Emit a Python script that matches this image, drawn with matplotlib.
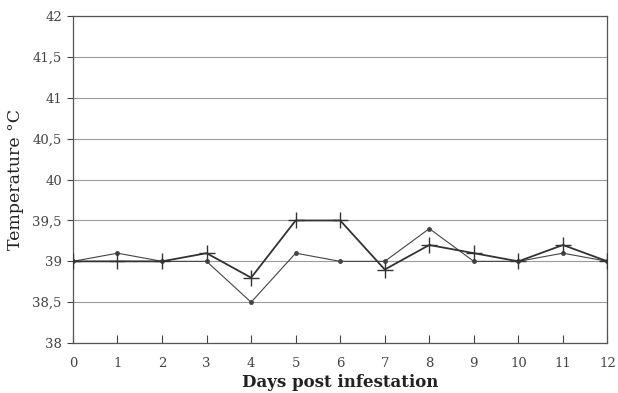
import matplotlib
matplotlib.use("Agg")
import matplotlib.pyplot as plt
from matplotlib.ticker import FuncFormatter

days = list(range(13))
temp_dot = [39.0, 39.1, 39.0, 39.0, 38.5, 39.1, 39.0, 39.0, 39.4, 39.0, 39.0, 39.1, 39.0]
temp_plus = [39.0, 39.0, 39.0, 39.1, 38.8, 39.5, 39.5, 38.9, 39.2, 39.1, 39.0, 39.2, 39.0]
yticks = [38, 38.5, 39, 39.5, 40, 40.5, 41, 41.5, 42]

plt.rcParams['font.family'] = ['DejaVu Serif']

fig = plt.figure(figsize=(6.18, 3.93), dpi=100)
ax = fig.add_axes([0.118, 0.127, 0.865, 0.832])

ax.plot(days, temp_dot, color="#444444", lw=0.8, marker="o", ms=2.5, zorder=3)
ax.plot(days, temp_plus, color="#333333", lw=1.3, marker="+", ms=11, mew=1.0, zorder=4)

ax.set_xlim(0, 12)
ax.set_ylim(38, 42)
ax.set_xticks(days)
ax.set_yticks(yticks)
ax.yaxis.set_major_formatter(FuncFormatter(lambda v, p: f"{v:g}".replace(".", ",")))
ax.grid(axis="y", color="#9a9a9a", lw=0.8)
ax.set_axisbelow(True)

ax.tick_params(axis="x", direction="in", length=6, color="#444444", labelsize=9.5, pad=10, labelcolor="#444444")
ax.tick_params(axis="y", direction="out", length=4, color="#444444", labelsize=9.5, pad=4, labelcolor="#444444")
for s in ax.spines.values():
    s.set_color("#555555")
    s.set_linewidth(0.9)

ax.set_xlabel("Days post infestation", fontsize=12, fontweight="bold", labelpad=3, color="#222222")
ax.set_ylabel("Temperature °C", fontsize=12.5, labelpad=6, color="#222222")

fig.savefig("out.png", dpi=100)
